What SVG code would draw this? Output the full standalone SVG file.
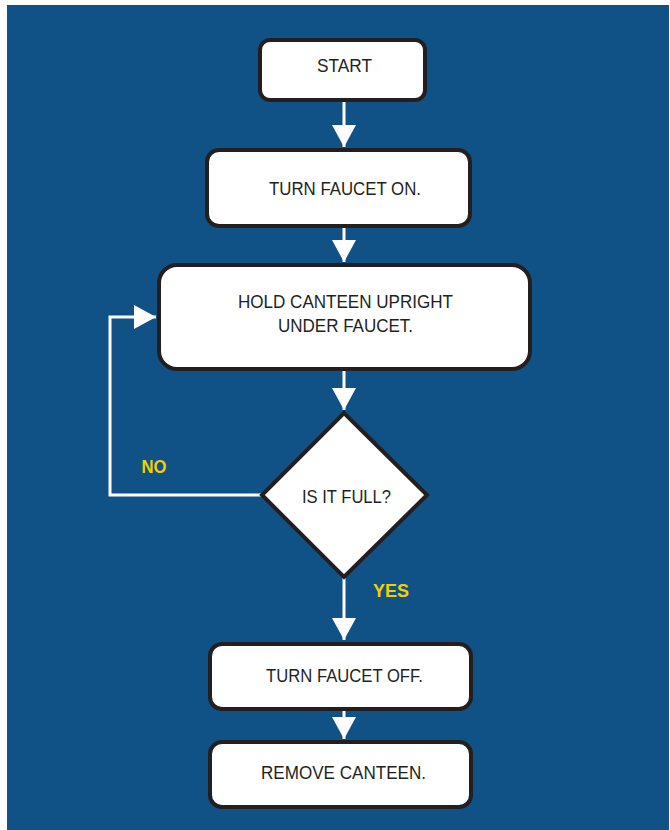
<svg xmlns="http://www.w3.org/2000/svg" width="670" height="830" viewBox="0 0 670 830">
<defs>
<style>
.box{fill:#fff;stroke:#231f20;stroke-width:4}
.t{font-family:"Liberation Sans",Arial,sans-serif;font-size:18px;fill:#231f20;text-anchor:middle}
.lbl{font-family:"Liberation Sans",Arial,sans-serif;font-size:18px;font-weight:bold;fill:#f2d000;text-anchor:middle}
.con{fill:none;stroke:#fff;stroke-width:3}
</style>
<marker id="ah" markerUnits="userSpaceOnUse" markerWidth="24" markerHeight="26" refX="22" refY="12" orient="auto">
<path d="M0,0 L22,12 L0,24 Z" fill="#fff"/>
</marker>
</defs>
<rect x="7" y="5" width="662" height="825" fill="#105286"/>
<g id="connectors">
<line class="con" x1="344" y1="101" x2="344" y2="147" marker-end="url(#ah)"/>
<line class="con" x1="344" y1="228" x2="344" y2="262" marker-end="url(#ah)"/>
<line class="con" x1="344" y1="371" x2="344" y2="410" marker-end="url(#ah)"/>
<line class="con" x1="344" y1="578" x2="344" y2="640" marker-end="url(#ah)"/>
<line class="con" x1="344" y1="711" x2="344" y2="739" marker-end="url(#ah)"/>
<polyline class="con" points="261,495 110,495 110,317 156,317" marker-end="url(#ah)"/>
<text class="lbl" x="154" y="473" textLength="25" lengthAdjust="spacingAndGlyphs">NO</text>
<text class="lbl" x="391" y="597" textLength="36" lengthAdjust="spacingAndGlyphs">YES</text>
</g>
<g id="start">
<rect class="box" x="260" y="40" width="165" height="60" rx="10"/>
<text class="t" x="344.5" y="72" textLength="55" lengthAdjust="spacingAndGlyphs">START</text>
</g>
<g id="faucet-on">
<rect class="box" x="207" y="150" width="263" height="76" rx="12"/>
<text class="t" x="345" y="195" textLength="152" lengthAdjust="spacingAndGlyphs">TURN FAUCET ON.</text>
</g>
<g id="hold">
<rect class="box" x="159" y="265" width="371" height="104" rx="18"/>
<text class="t" x="345.5" y="308" textLength="215" lengthAdjust="spacingAndGlyphs">HOLD CANTEEN UPRIGHT</text>
<text class="t" x="345.5" y="332" textLength="135" lengthAdjust="spacingAndGlyphs">UNDER FAUCET.</text>
</g>
<g id="full">
<polygon class="box" points="344,413 427,495 344,577 262,495"/>
<text class="t" x="346.5" y="503" textLength="89" lengthAdjust="spacingAndGlyphs">IS IT FULL?</text>
</g>
<g id="faucet-off">
<rect class="box" x="210" y="644" width="261" height="65" rx="12"/>
<text class="t" x="344.5" y="682" textLength="157" lengthAdjust="spacingAndGlyphs">TURN FAUCET OFF.</text>
</g>
<g id="remove">
<rect class="box" x="210" y="742" width="261" height="65" rx="12"/>
<text class="t" x="343.5" y="779" textLength="165" lengthAdjust="spacingAndGlyphs">REMOVE CANTEEN.</text>
</g>
</svg>
